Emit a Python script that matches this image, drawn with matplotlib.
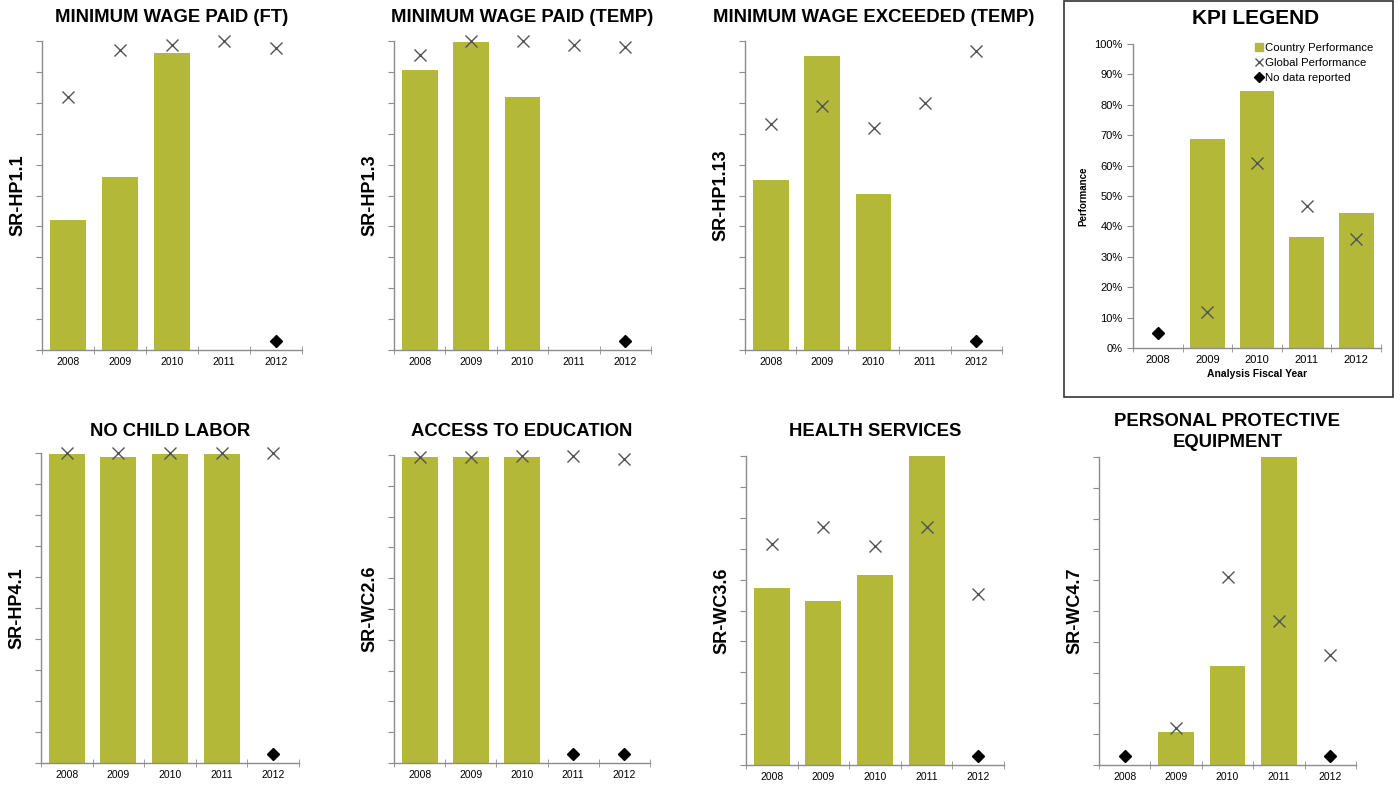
import numpy as np
import matplotlib
matplotlib.use("Agg")
import matplotlib.pyplot as plt
from matplotlib.lines import Line2D
from matplotlib.patches import Rectangle

plt.rcParams["font.family"] = ["Liberation Sans", "DejaVu Sans"]

W, H = 1400, 793
BAR_COLOR = "#b3b839"
CROSS_COLOR = "#555555"
AXIS_COLOR = "#8c8c8c"

years = ["2008", "2009", "2010", "2011", "2012"]

# KPI panels: title, code, country bars (%), global crosses (%), no-data years
titles = ["MINIMUM WAGE PAID (FT)", "MINIMUM WAGE PAID (TEMP)", "MINIMUM WAGE EXCEEDED (TEMP)",
          "NO CHILD LABOR", "ACCESS TO EDUCATION", "HEALTH SERVICES",
          "PERSONAL PROTECTIVE\nEQUIPMENT"]
codes = ["SR-HP1.1", "SR-HP1.3", "SR-HP1.13", "SR-HP4.1", "SR-WC2.6", "SR-WC3.6", "SR-WC4.7"]

country = [
    [42, 56, 96, np.nan, np.nan],
    [90.5, 99.7, 82, np.nan, np.nan],
    [55, 95, 50.5, np.nan, np.nan],
    [99.7, 98.8, 99.7, 99.7, np.nan],
    [99.3, 99.3, 99.3, np.nan, np.nan],
    [57.3, 53, 61.4, 100, np.nan],
    [np.nan, 10.7, 32.3, 100, np.nan],
]
global_perf = [
    [82, 97, 98.7, 100, 97.7],
    [95.5, 100, 100, 98.7, 98],
    [73, 79, 71.8, 80, 96.8],
    [100, 100, 100, 100, 100],
    [99.3, 99.3, 99.6, 99.6, 98.8],
    [71.5, 77, 70.9, 77, 55.3],
    [np.nan, 11.9, 60.9, 46.6, 35.7],
]
no_data = [
    [4], [4], [4], [4], [3, 4], [4], [0, 4],
]
NO_DATA_LEVEL = 3

# legend panel example values
legend_country = [np.nan, 68.6, 84.5, 36.4, 44.4]
legend_global = [np.nan, 11.7, 60.7, 46.7, 35.8]
legend_no_data = [0]
legend_no_data_level = 5

# axes boxes in pixels: left, top, right, bottom
boxes = [
    (42, 41, 302, 350),
    (394, 41, 651, 350),
    (745, 41, 1002, 350),
    (41, 453, 299, 763),
    (394, 455, 650, 763),
    (746, 456, 1004, 765),
    (1099, 457, 1356, 765),
]
title_y = [18, 18, 18, 431, 431, 431, 432]
legend_box = (1133, 44, 1381, 348)


def add_px_axes(fig, box):
    l, t, r, b = box
    return fig.add_axes([l / W, 1 - b / H, (r - l) / W, (b - t) / H])


def style_axes(ax, label_y=False, fs=7.5):
    x = np.arange(len(years))
    ax.set_xlim(-0.5, len(years) - 0.5)
    ax.set_ylim(0, 100)
    for s in ["top", "right"]:
        ax.spines[s].set_visible(False)
    for s in ["left", "bottom"]:
        ax.spines[s].set_color(AXIS_COLOR)
        ax.spines[s].set_linewidth(1.0)
    ax.set_xticks(x)
    ax.set_xticklabels(years, fontsize=fs)
    ax.set_xticks(np.arange(-0.5, len(years)), minor=True)
    ax.tick_params(axis="x", which="major", length=0, pad=5)
    ax.tick_params(axis="x", which="minor", length=6, direction="inout", color=AXIS_COLOR)
    ax.set_yticks(np.arange(0, 101, 10))
    ax.tick_params(axis="y", length=4, direction="out", color=AXIS_COLOR, labelsize=fs)
    if label_y:
        ax.set_yticklabels([f"{v}%" for v in range(0, 101, 10)])
    else:
        ax.set_yticklabels([])


def draw_panel(ax, bars, crosses, nodata, level):
    x = np.arange(len(years))
    ax.bar(x, bars, width=0.7, color=BAR_COLOR, edgecolor="none", zorder=2)
    ax.plot(x, crosses, linestyle="none", marker="x", markersize=9,
            markeredgewidth=1.0, color=CROSS_COLOR, zorder=3, clip_on=False)
    ax.plot(nodata, [level] * len(nodata), linestyle="none", marker="D",
            markersize=6.5, color="black", zorder=3, clip_on=False)


fig = plt.figure(figsize=(W / 100, H / 100), dpi=100)

for i in range(len(titles)):
    l, t, r, b = boxes[i]
    ax = add_px_axes(fig, boxes[i])
    style_axes(ax)
    draw_panel(ax, country[i], global_perf[i], no_data[i], NO_DATA_LEVEL)
    fig.text((l + r) / 2 / W, 1 - title_y[i] / H, titles[i], fontsize=13.3,
             fontweight="bold", ha="center", va="center", linespacing=1.25)
    ax.set_ylabel(codes[i], fontsize=13, fontweight="bold")
    ax.yaxis.set_label_coords(-16 / (r - l), 0.5)

# legend panel
ax = add_px_axes(fig, legend_box)
style_axes(ax, label_y=True, fs=8)
draw_panel(ax, legend_country, legend_global, legend_no_data, legend_no_data_level)
fig.text(1256 / W, 1 - 19 / H, "KPI LEGEND", fontsize=15, fontweight="bold",
         ha="center", va="center")
ax.set_ylabel("Performance", fontsize=7, fontweight="bold", labelpad=4)
ax.set_xlabel("Analysis Fiscal Year", fontsize=7.5, fontweight="bold", labelpad=3)
handles = [
    Line2D([], [], linestyle="none", marker="s", markersize=6, color=BAR_COLOR),
    Line2D([], [], linestyle="none", marker="x", markersize=6, color=CROSS_COLOR),
    Line2D([], [], linestyle="none", marker="D", markersize=5, color="black"),
]
ax.legend(handles, ["Country Performance", "Global Performance", "No data reported"],
          loc="upper right", bbox_to_anchor=(1.0, 1.03), frameon=False, fontsize=8.2,
          handlelength=0.6, handletextpad=0.2, labelspacing=0.45, borderpad=0.2)

fig.patches.append(Rectangle((1064 / W, 1 - 397 / H), (1393 - 1064) / W, 396 / H,
                             transform=fig.transFigure, fill=False,
                             edgecolor="#333333", linewidth=1.2))

fig.savefig("out.png", dpi=100)
